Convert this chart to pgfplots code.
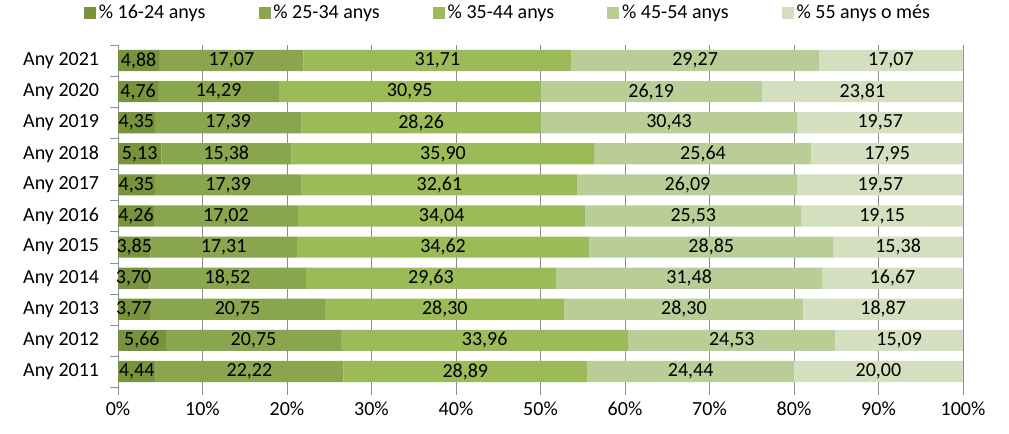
\documentclass[border=0pt]{standalone}
\usepackage{fontspec}
\setmainfont{Carlito}
\usepackage{pgfplots}
\usepackage{pgfplotstable}
\pgfplotsset{compat=1.18}

\definecolor{c1}{HTML}{77933C}
\definecolor{c2}{HTML}{89A54E}
\definecolor{c3}{HTML}{9BBB59}
\definecolor{c4}{HTML}{B9CE96}
\definecolor{c5}{HTML}{D3DFBF}
\definecolor{gridgray}{HTML}{8E8E8E}

% year, then the five age groups (percent)
\pgfplotstableread{
y  a    b     c     d     e
0  4.44 22.22 28.89 24.44 20.00
1  5.66 20.75 33.96 24.53 15.09
2  3.77 20.75 28.30 28.30 18.87
3  3.70 18.52 29.63 31.48 16.67
4  3.85 17.31 34.62 28.85 15.38
5  4.26 17.02 34.04 25.53 19.15
6  4.35 17.39 32.61 26.09 19.57
7  5.13 15.38 35.90 25.64 17.95
8  4.35 17.39 28.26 30.43 19.57
9  4.76 14.29 30.95 26.19 23.81
10 4.88 17.07 31.71 29.27 17.07
}\ages

\pgfplotsset{
  base/.style={
    scale only axis, width=633.75pt, height=256.5pt,
    xmin=0, xmax=100, ymin=-0.5, ymax=10.5,
    at={(88.5pt,34.5pt)}, anchor=south west,
    /pgf/number format/assume math mode=true,
  }
}

\begin{document}
\fontsize{15}{18}\selectfont
\begin{tikzpicture}
\path[use as bounding box] (0,0) rectangle (756.75pt,324.75pt);
\begin{axis}[base,
  xbar stacked, bar width=0.68,
  axis lines*=left,
  x axis line style={draw=none},
  y axis line style={draw=gridgray},
  tick align=outside, major tick length=6pt,
  tick style={draw=gridgray},
  xtick={0,10,...,100},
  xticklabel={\pgfmathprintnumber{\tick}\%},
  xmajorgrids, grid style={gridgray},
  % ticks sit on the boundaries between years; labels are lifted half a row
  ytick={-0.5,0.5,...,10.5},
  yticklabels={Any 2011,Any 2012,Any 2013,Any 2014,Any 2015,Any 2016,Any 2017,Any 2018,Any 2019,Any 2020,Any 2021,{}},
  yticklabel style={yshift=11.66pt, xshift=-3pt},
  legend columns=5,
  legend style={draw=none, fill=none, at={(0.462,1.094)}, anchor=center,
    inner sep=0pt, nodes={inner sep=2pt},
    /tikz/every even column/.append style={column sep=38pt}},
  legend image code/.code={\fill[#1] (0pt,-4.5pt) rectangle (9pt,4.5pt);},
]
\addplot[fill=c1, draw=none] table[x=a, y=y] \ages;
\addplot[fill=c2, draw=none] table[x=b, y=y] \ages;
\addplot[fill=c3, draw=none] table[x=c, y=y] \ages;
\addplot[fill=c4, draw=none] table[x=d, y=y] \ages;
\addplot[fill=c5, draw=none] table[x=e, y=y] \ages;
\legend{\% 16-24 anys, \% 25-34 anys, \% 35-44 anys, \% 45-54 anys, \% 55 anys o més}
\end{axis}

% value labels, centred in each segment
\begin{axis}[base, hide axis, clip=false,
  point meta=explicit,
  nodes near coords={\pgfmathprintnumber[fixed, fixed zerofill, precision=2, use comma]{\pgfplotspointmeta}},
  every node near coord/.append style={anchor=center, text=black},
]
\addplot[draw=none] table[x expr=\thisrow{a}/2, y=y, meta=a] \ages;
\addplot[draw=none] table[x expr=\thisrow{a}+\thisrow{b}/2, y=y, meta=b] \ages;
\addplot[draw=none] table[x expr=\thisrow{a}+\thisrow{b}+\thisrow{c}/2, y=y, meta=c] \ages;
\addplot[draw=none] table[x expr=\thisrow{a}+\thisrow{b}+\thisrow{c}+\thisrow{d}/2, y=y, meta=d] \ages;
\addplot[draw=none] table[x expr=\thisrow{a}+\thisrow{b}+\thisrow{c}+\thisrow{d}+\thisrow{e}/2, y=y, meta=e] \ages;
\end{axis}
\end{tikzpicture}
\end{document}
